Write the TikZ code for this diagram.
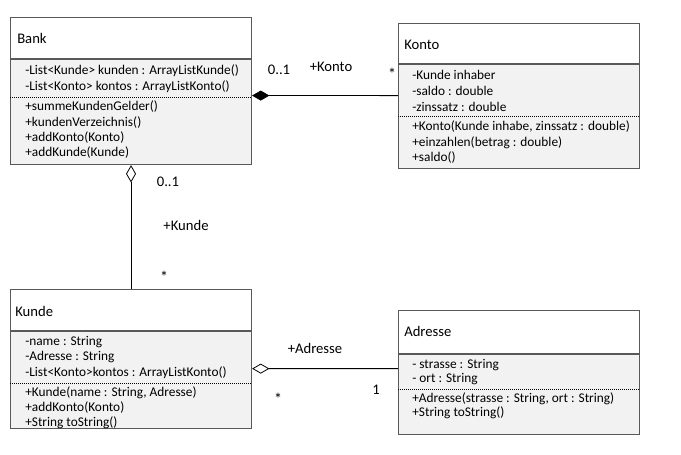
\documentclass[tikz,border=0pt]{standalone}
\usepackage{fontspec}
\setmainfont{Carlito}
\usetikzlibrary{arrows.meta, positioning}

\begin{document}
\begin{tikzpicture}[
    x=0.75pt, y=-0.75pt,
    head/.style={rectangle, draw=black!65, fill=white, line width=0.8pt, anchor=north west, minimum width=180.75pt, inner sep=0pt},
    body/.style={rectangle, draw=black!65, fill=black!5, line width=0.8pt, anchor=north, minimum width=180.75pt, inner sep=0pt},
    title/.style={anchor=west, inner sep=0pt, font=\fontsize{11pt}{13pt}\selectfont},
    member/.style={anchor=west, inner sep=0pt, font=\fontsize{10pt}{12pt}\selectfont},
    sep/.style={densely dotted, line width=0.5pt},
    lbl/.style={inner sep=0pt, font=\fontsize{11pt}{13pt}\selectfont},
    assoc/.style={line width=0.6pt},
    comp/.style={{Diamond[length=13pt, width=7.5pt]}-},
    aggr/.style={{Diamond[open, length=13pt, width=7.5pt]}-}
]
\useasboundingbox (0,0) rectangle (681,454);

% Bank
\node[head, minimum height=30.75pt] (bank) at (10,17) {};
\node[body, minimum height=78.75pt] (bankbody) at (bank.south) {};
\node[title] (banktitle) at (17,38) {Bank};
\foreach \t [count=\i] in {{-List<Kunde> kunden : ArrayListKunde()}, {-List<Konto> kontos : ArrayListKonto()}}
  \node[member] (bankattr\i) at (25,{71+16*(\i-1)}) {\t};
\draw[sep] (10,97) -- (251,97);
\foreach \t [count=\i] in {+summeKundenGelder(), +kundenVerzeichnis(), +addKonto(Konto), +addKunde(Kunde)}
  \node[member] (bankop\i) at (25,{107+15.2*(\i-1)}) {\t};

% Konto
\node[head, minimum height=30pt] (konto) at (398,23) {};
\node[body, minimum height=78pt] (kontobody) at (konto.south) {};
\node[title] (kontotitle) at (404,45) {Konto};
\foreach \t [count=\i] in {-Kunde inhaber, -saldo : double, -zinssatz : double}
  \node[member] (kontoattr\i) at (412,{75+16*(\i-1)}) {\t};
\draw[sep] (398,116) -- (639,116);
\foreach \t [count=\i] in {{+Konto(Kunde inhabe, zinssatz : double)}, +einzahlen(betrag : double), +saldo()}
  \node[member] (kontoop\i) at (412,{127+15.3*(\i-1)}) {\t};

% Kunde
\node[head, minimum height=30.75pt] (kunde) at (10,289) {};
\node[body, minimum height=72.75pt] (kundebody) at (kunde.south) {};
\node[title] (kundetitle) at (15,311) {Kunde};
\foreach \t [count=\i] in {-name : String, -Adresse : String, -List<Konto>kontos : ArrayListKonto()}
  \node[member] (kundeattr\i) at (25,{342+15.5*(\i-1)}) {\t};
\draw[sep] (10,383) -- (251,383);
\foreach \t [count=\i] in {{+Kunde(name : String, Adresse)}, +addKonto(Konto), +String toString()}
  \node[member] (kundeop\i) at (25,{393+15*(\i-1)}) {\t};

% Adresse
\node[head, minimum height=32.25pt] (adresse) at (398,310) {};
\node[body, minimum height=60pt] (adressebody) at (adresse.south) {};
\node[title] (adressetitle) at (404,331) {Adresse};
\foreach \t [count=\i] in {- strasse : String, - ort : String}
  \node[member] (adresseattr\i) at (412,{365+14*(\i-1)}) {\t};
\draw[sep] (398,389) -- (639,389);
\foreach \t [count=\i] in {{+Adresse(strasse : String, ort : String)}, +String toString()}
  \node[member] (adresseop\i) at (412,{399+14*(\i-1)}) {\t};

% Connections
\draw[assoc, comp] ([yshift=12.4pt]bankbody.east) -- ([yshift=15.75pt]kontobody.west);
\draw[assoc, aggr] (bankbody.south) -- (kunde.north);
\draw[assoc, aggr] ([yshift=8.6pt]kundebody.east) -- ([yshift=19.5pt]adressebody.west);

% Multiplicities and roles
\node[lbl] (m1) at (279,70) {0..1};
\node[lbl] (r1) at (331,67) {+Konto};
\node[lbl] (m2) at (392,74) {\large *};
\node[lbl] (m3) at (168,182) {0..1};
\node[lbl] (r2) at (186,225) {+Kunde};
\node[lbl] (m4) at (164,277) {\large *};
\node[lbl] (r3) at (315,348) {+Adresse};
\node[lbl] (m5) at (278,399) {\large *};
\node[lbl] (m6) at (376,390) {1};

\end{tikzpicture}
\end{document}
